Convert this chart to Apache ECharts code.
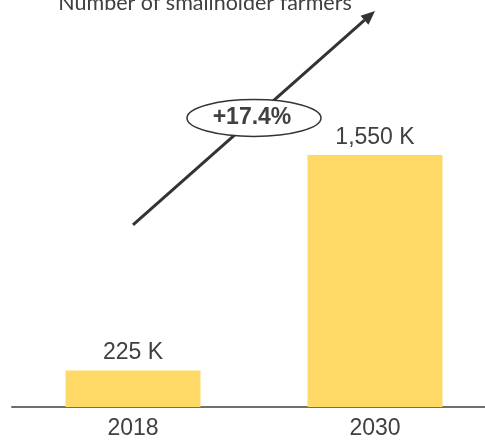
<!DOCTYPE html>
<html>
<head>
<meta charset="utf-8">
<script src="https://cdn.jsdelivr.net/npm/echarts@6/dist/echarts.min.js"></script>
<style>
  html, body { margin: 0; padding: 0; background: #fff; overflow: hidden; }
  #chart { width: 496px; height: 442px; }
</style>
</head>
<body>
<div id="chart"></div>
<script>
// Smallholder farmer counts (thousands)
const years = ['2018', '2030'];
const farmers = [225, 1550];
const growthLabel = '+17.4%';
const titleText = 'Number of smallholder farmers';

const textFont = '"Liberation Sans", Arial, sans-serif';
const textColor = '#404040';

const chart = echarts.init(document.getElementById('chart'), null, { renderer: 'canvas' });

chart.setOption({
  animation: false,
  backgroundColor: '#ffffff',
  grid: { left: 12, right: 0, top: 0.55, bottom: 35, containLabel: false },
  xAxis: {
    type: 'category',
    data: years,
    axisTick: { show: false },
    axisLine: { lineStyle: { color: '#6e6e6e', width: 2 } },
    axisLabel: {
      fontFamily: textFont,
      fontSize: 23,
      color: textColor,
      margin: 10
    }
  },
  yAxis: {
    type: 'value',
    min: 0,
    max: 2500,
    show: false,
    splitLine: { show: false }
  },
  series: [{
    type: 'bar',
    data: farmers,
    barWidth: 135,
    itemStyle: { color: '#FFD966' },
    label: {
      show: true,
      position: 'top',
      distance: 6,
      fontFamily: textFont,
      fontSize: 23,
      color: textColor,
      formatter: p => p.value.toLocaleString('en-US') + ' K'
    }
  }]
});

// Growth arrow from the 2018 bar to the 2030 bar, with its rate badge
function drawAnnotations() {
  const p0 = chart.convertToPixel({ gridIndex: 0 }, [years[0], 1120]);
  const p1 = chart.convertToPixel({ gridIndex: 0 }, [years[1], 2436]);
  const dx = p1[0] - p0[0], dy = p1[1] - p0[1];
  const len = Math.sqrt(dx * dx + dy * dy);
  const ux = dx / len, uy = dy / len;
  const headLen = 14, headHalf = 6;
  const base = [p1[0] - ux * headLen, p1[1] - uy * headLen];
  const nx = -uy, ny = ux;

  const ellCx = 254, ellCy = 118;

  chart.setOption({
    graphic: [
      {
        type: 'text',
        style: {
          text: titleText,
          x: 205, y: 3,
          align: 'center',
          verticalAlign: 'middle',
          fontFamily: 'Lato',
          fontSize: 21.5,
          fill: textColor
        },
        z: 10
      },
      {
        type: 'line',
        shape: { x1: p0[0], y1: p0[1], x2: base[0], y2: base[1] },
        style: { stroke: '#333333', lineWidth: 3 },
        z: 5
      },
      {
        type: 'polygon',
        shape: {
          points: [
            [p1[0], p1[1]],
            [base[0] + nx * headHalf, base[1] + ny * headHalf],
            [base[0] - nx * headHalf, base[1] - ny * headHalf]
          ]
        },
        style: { fill: '#333333' },
        z: 5
      },
      {
        type: 'ellipse',
        shape: { cx: ellCx, cy: ellCy, rx: 67, ry: 18.5 },
        style: { fill: '#ffffff', stroke: '#333333', lineWidth: 1.5 },
        z: 6
      },
      {
        type: 'text',
        style: {
          text: growthLabel,
          x: ellCx - 2, y: ellCy,
          align: 'center',
          verticalAlign: 'middle',
          fontFamily: textFont,
          fontWeight: 'bold',
          fontSize: 23,
          fill: '#404040'
        },
        z: 7
      }
    ]
  });
}
drawAnnotations();
</script>
</body>
</html>
